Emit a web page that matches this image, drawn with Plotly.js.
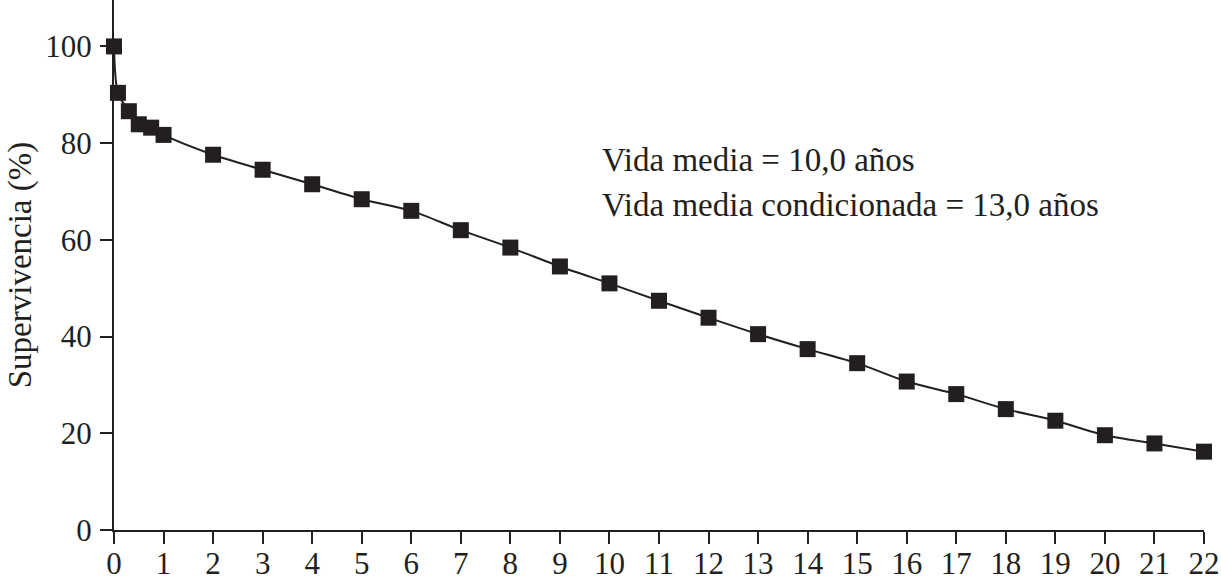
<!DOCTYPE html>
<html>
<head>
<meta charset="utf-8">
<script src="https://cdn.plot.ly/plotly-3.0.1.min.js"></script>
<style>
  html, body { margin: 0; padding: 0; background: #fff; }
  #chart { width: 1221px; height: 580px; }
</style>
</head>
<body>
<div id="chart"></div>
<script>
// years of follow-up and survival (%)
var years = [0, 0.08, 0.3, 0.5, 0.75, 1, 2, 3, 4, 5, 6, 7, 8, 9, 10, 11,
             12, 13, 14, 15, 16, 17, 18, 19, 20, 21, 22];
var survival = [100, 90.4, 86.6, 83.9, 83.2, 81.7, 77.6, 74.5, 71.5, 68.4, 66.0,
                62.0, 58.4, 54.5, 51.0, 47.4, 43.9, 40.5, 37.4, 34.5, 30.7,
                28.1, 25.0, 22.6, 19.6, 17.9, 16.2];
var xTicks = [0, 1, 2, 3, 4, 5, 6, 7, 8, 9, 10, 11, 12, 13, 14, 15, 16,
              17, 18, 19, 20, 21, 22];
var yTicks = [0, 20, 40, 60, 80, 100];
var notes = ['Vida media = 10,0 años', 'Vida media condicionada = 13,0 años'];

var ink = '#231f20';
var serif = 'Liberation Serif, Times New Roman, serif';

var trace = {
  x: years,
  y: survival,
  type: 'scatter',
  mode: 'lines+markers',
  line: {color: ink, width: 2, shape: 'spline', smoothing: 0.8},
  marker: {symbol: 'square', size: 16, color: ink},
  cliponaxis: false,
  hoverinfo: 'x+y'
};

var layout = {
  width: 1221,
  height: 580,
  margin: {l: 114, r: 17, t: 0, b: 50},
  paper_bgcolor: '#fff',
  plot_bgcolor: '#fff',
  showlegend: false,
  font: {family: serif, size: 31, color: ink},
  xaxis: {
    range: [0, 22],
    tickvals: xTicks,
    ticktext: xTicks.map(String),
    ticks: 'outside',
    ticklen: 12,
    tickwidth: 2,
    tickcolor: ink,
    showline: true,
    linecolor: ink,
    linewidth: 2,
    showgrid: false,
    zeroline: false,
    ticklabelstandoff: -7,
    tickfont: {family: serif, size: 31, color: ink}
  },
  yaxis: {
    range: [0, 109.6],
    tickvals: yTicks,
    ticks: 'outside',
    ticklen: 12,
    tickwidth: 2,
    tickcolor: ink,
    showline: true,
    linecolor: ink,
    linewidth: 2,
    showgrid: false,
    zeroline: false,
    ticklabelstandoff: 2,
    tickfont: {family: serif, size: 31, color: ink},
    title: {text: 'Supervivencia (%)', font: {family: serif, size: 33, color: ink}, standoff: 4}
  },
  annotations: [
    {x: 9.81, y: 76.5, xref: 'x', yref: 'y', xanchor: 'left', yanchor: 'middle',
     text: notes[0], showarrow: false, font: {family: serif, size: 33, color: ink}},
    {x: 9.81, y: 67.2, xref: 'x', yref: 'y', xanchor: 'left', yanchor: 'middle',
     text: notes[1], showarrow: false, font: {family: serif, size: 33, color: ink}}
  ]
};

Plotly.newPlot('chart', [trace], layout, {displayModeBar: false, staticPlot: true});
</script>
</body>
</html>
